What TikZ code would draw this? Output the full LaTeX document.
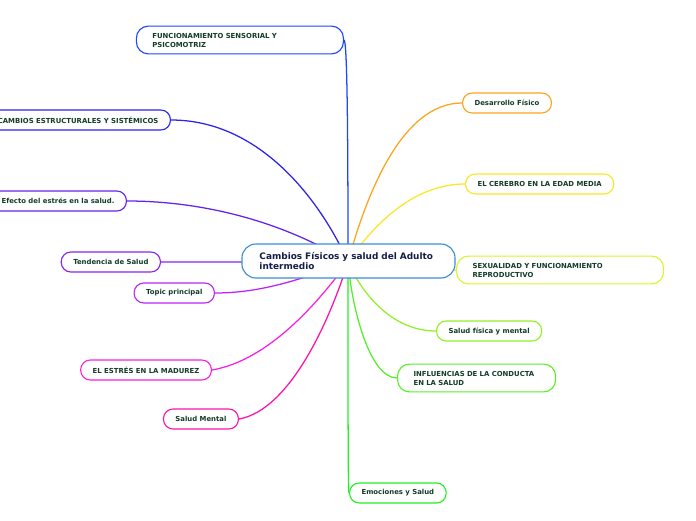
\documentclass[tikz,border=0pt]{standalone}
\usepackage{fontspec}
\setmainfont{DejaVu Sans}
\usetikzlibrary{backgrounds}
\definecolor{leaftext}{RGB}{20,60,40}
\definecolor{hubtext}{RGB}{20,30,70}
\definecolor{hubline}{RGB}{60,140,210}
\definecolor{cfunc}{RGB}{30,70,250}
\definecolor{ccamb}{RGB}{45,35,235}
\definecolor{cefec}{RGB}{100,35,235}
\definecolor{ctend}{RGB}{140,35,235}
\definecolor{ctopic}{RGB}{190,35,245}
\definecolor{cestres}{RGB}{245,35,225}
\definecolor{cmental}{RGB}{250,20,170}
\definecolor{cdesa}{RGB}{250,165,30}
\definecolor{ccere}{RGB}{250,230,40}
\definecolor{csexu}{RGB}{215,245,40}
\definecolor{cfisi}{RGB}{145,240,40}
\definecolor{cinfl}{RGB}{85,240,40}
\definecolor{cemoc}{RGB}{35,240,35}

\begin{document}
\begin{tikzpicture}[
    x=0.025cm, y=-0.025cm,
    leaf/.style={draw, fill=white, line width=0.8pt, rounded corners=0.24cm, minimum height=0.5cm, inner xsep=0.3cm, font=\bfseries\fontsize{4.9}{6.4}\selectfont, text=leaftext},
    wideleaf/.style={leaf, align=left, inner xsep=0.4cm, inner ysep=0.17cm, rounded corners=0.3cm},
    hubbox/.style={draw=hubline, fill=white, line width=0.8pt, rounded corners=0.35cm, align=left, text width=4.45cm, inner xsep=0.4375cm, minimum height=0.85cm, font=\bfseries\fontsize{6.35}{7.8}\selectfont, text=hubtext},
    link/.style={line width=0.9pt}
]
    \useasboundingbox (0,0) rectangle (696,520);
    \clip (0,0) rectangle (696,520);

    % central topic
    \node[hubbox] (hub) at (348.5,261) {Cambios Físicos y salud del Adulto\\intermedio};
    \coordinate (c) at (348,261.8);

    % left branches
    \node[wideleaf, draw=cfunc, text width=4.375cm, anchor=east] (func) at (344,40) {FUNCIONAMIENTO SENSORIAL Y\\PSICOMOTRIZ};
    \node[leaf, draw=ccamb, anchor=east] (camb) at (171,120) {CAMBIOS ESTRUCTURALES Y SISTÉMICOS};
    \node[leaf, draw=cefec, anchor=east] (efec) at (127,201) {Efecto del estrés en la salud.};
    \node[leaf, draw=ctend, anchor=east] (tend) at (161,262) {Tendencia de Salud};
    \node[leaf, draw=ctopic, anchor=east] (topic) at (215,293) {Topic principal};
    \node[leaf, draw=cestres, anchor=east] (estres) at (212,370) {EL ESTRÉS EN LA MADUREZ};
    \node[leaf, draw=cmental, anchor=east] (mental) at (239,419) {Salud Mental};

    % right branches
    \node[leaf, draw=cdesa, anchor=west] (desa) at (462,103) {Desarrollo Físico};
    \node[leaf, draw=ccere, anchor=west] (cere) at (465,184) {EL CEREBRO EN LA EDAD MEDIA};
    \node[wideleaf, draw=csexu, text width=4.375cm, anchor=west] (sexu) at (456,270) {SEXUALIDAD Y FUNCIONAMIENTO\\REPRODUCTIVO};
    \node[leaf, draw=cfisi, anchor=west] (fisi) at (436,331) {Salud física y mental};
    \node[wideleaf, draw=cinfl, text width=3.15cm, anchor=west] (infl) at (397,378) {INFLUENCIAS DE LA CONDUCTA\\EN LA SALUD};
    \node[leaf, draw=cemoc, anchor=west] (emoc) at (349,493) {Emociones y Salud};

    \begin{scope}[on background layer]
        \draw[link, cfunc] (c) .. controls (348,120) and (347,40) .. (func.east);
        \draw[link, ccamb] (c) .. controls (320,200) and (260,120) .. (camb.east);
        \draw[link, cefec] (c) .. controls (280,220) and (200,201) .. (efec.east);
        \draw[link, ctend] (c) -- (tend.east);
        \draw[link, ctopic] (c) .. controls (300,280) and (260,293) .. (topic.east);
        \draw[link, cestres] (c) .. controls (320,300) and (270,360) .. (estres.east);
        \draw[link, cmental] (c) .. controls (330,320) and (290,410) .. (mental.east);
        \draw[link, cdesa] (c) .. controls (365,200) and (400,103) .. (desa.west);
        \draw[link, ccere] (c) .. controls (370,230) and (410,184) .. (cere.west);
        \draw[link, csexu] (c) .. controls (400,265) and (430,270) .. (sexu.west);
        \draw[link, cfisi] (c) .. controls (360,290) and (390,331) .. (fisi.west);
        \draw[link, cinfl] (c) .. controls (352,310) and (370,378) .. (infl.west);
        \draw[link, cemoc] (c) .. controls (348,400) and (348,493) .. (emoc.west);
    \end{scope}
\end{tikzpicture}
\end{document}
